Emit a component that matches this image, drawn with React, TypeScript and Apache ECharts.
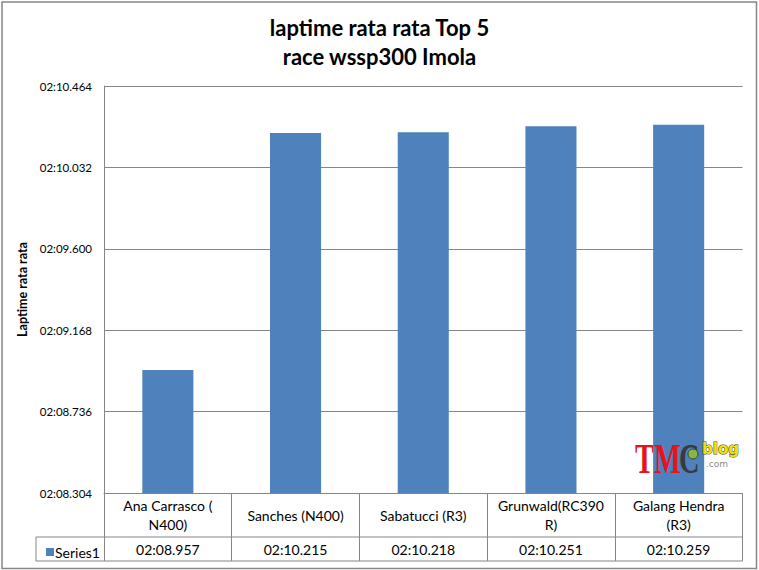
import React, { useEffect, useRef } from "react";
import * as echarts from "echarts";

const categories = ["Ana Carrasco ( N400)", "Sanches (N400)", "Sabatucci (R3)", "Grunwald(RC390R)", "Galang Hendra (R3)"];
const categoryLabels = ["Ana Carrasco (\nN400)", "Sanches (N400)", "Sabatucci (R3)", "Grunwald(RC390\nR)", "Galang Hendra\n(R3)"];
const lapSeconds = [128.957, 130.215, 130.218, 130.251, 130.259];
const yMin = 128.304;
const yMax = 130.464;
const yStep = 0.432;
const seriesName = "Series1";
const titleLines = ["laptime rata rata Top 5", "race wssp300 Imola"];
const yAxisTitle = "Laptime rata rata";

const FONT = "Lato, 'Open Sans', sans-serif";
const GRAY = "#868686";

function fmtLap(v: number): string {
  const ms = Math.round(v * 1000);
  const m = Math.floor(ms / 60000);
  const s = (ms - m * 60000) / 1000;
  return String(m).padStart(2, "0") + ":" + s.toFixed(3).padStart(6, "0");
}

export default function App() {
  const ref = useRef<HTMLDivElement>(null);
  useEffect(() => {
    document.body.style.margin = "0";
    const chart = echarts.init(ref.current!, undefined, { renderer: "svg" });
    const option: any = {
      animation: false,
      backgroundColor: "#ffffff",
      title: {
        text: titleLines.join("\n"),
        left: "center",
        top: 8,
        textStyle: { fontFamily: FONT, fontSize: 22, fontWeight: "bold", color: "#000", lineHeight: 29 },
      },
      legend: {
        left: 41,
        top: 540,
        itemWidth: 8,
        itemHeight: 8,
        icon: "rect",
        data: [seriesName],
        textStyle: { fontFamily: FONT, fontSize: 14, color: "#000", padding: [0, 0, 0, -4] },
      },
      grid: { left: 104, right: 16.5, top: 86, bottom: 77, containLabel: false },
      xAxis: [
        {
          type: "category",
          data: categories,
          position: "bottom",
          axisLine: { show: true, lineStyle: { color: GRAY, width: 1 } },
          axisTick: { show: true, length: 68, lineStyle: { color: GRAY, width: 1 } },
          axisLabel: {
            interval: 0,
            margin: 22,
            verticalAlign: "middle",
            fontFamily: FONT,
            fontSize: 14,
            lineHeight: 19,
            color: "#000",
            formatter: (_v: string, i: number) => categoryLabels[i],
          },
        },
        {
          type: "category",
          data: categories,
          position: "bottom",
          offset: 44,
          axisLine: { show: false },
          axisTick: { show: false },
          axisLabel: {
            interval: 0,
            margin: 12,
            verticalAlign: "middle",
            fontFamily: FONT,
            fontSize: 14,
            color: "#000",
            formatter: (_v: string, i: number) => fmtLap(lapSeconds[i]),
          },
        },
      ],
      yAxis: {
        type: "value",
        min: yMin,
        max: yMax,
        interval: yStep,
        name: yAxisTitle,
        nameLocation: "middle",
        nameGap: 65,
        nameRotate: 90,
        nameTextStyle: { fontFamily: FONT, fontSize: 12.5, fontWeight: "bold", color: "#000" },
        axisLine: { show: true, lineStyle: { color: GRAY, width: 1 } },
        axisTick: { show: false },
        axisLabel: { margin: 12, fontFamily: FONT, fontSize: 11.5, color: "#000", formatter: (v: number) => fmtLap(v) },
        splitLine: { show: true, lineStyle: { color: GRAY, width: 1 } },
      },
      series: [
        {
          name: seriesName,
          type: "bar",
          xAxisIndex: 0,
          data: lapSeconds,
          barWidth: "40%",
          itemStyle: { color: "#4F81BD" },
        },
      ],
      graphic: [
        { type: "rect", z: 100, shape: { x: 2, y: 2, width: 754.5, height: 566.5 }, style: { fill: "none", stroke: GRAY, lineWidth: 1.5 }, silent: true },
        { type: "line", z: 100, shape: { x1: 36, y1: 537, x2: 742.5, y2: 537 }, style: { stroke: GRAY, lineWidth: 1 } },
        { type: "line", z: 100, shape: { x1: 36, y1: 561, x2: 742.5, y2: 561 }, style: { stroke: GRAY, lineWidth: 1 } },
        { type: "line", z: 100, shape: { x1: 36, y1: 537, x2: 36, y2: 561 }, style: { stroke: GRAY, lineWidth: 1 } },
        { type: "text", z: 100, x: 635, y: 437, scaleX: 0.66, style: { text: "TM", font: "bold 43px 'Liberation Serif', serif", fill: "#e3161d", verticalAlign: "top" } },
        { type: "text", z: 100, x: 679, y: 437, scaleX: 0.66, style: { text: "C", font: "bold 43px 'Liberation Serif', serif", fill: "#3a3a3a", verticalAlign: "top" } },
        { type: "circle", z: 101, shape: { cx: 693, cy: 454, r: 5 }, style: { fill: "#8ab34a", stroke: "#2e4d1a", lineWidth: 1 } },
        { type: "text", z: 100, x: 702, y: 441, style: { text: "blog", font: "bold 15px 'DejaVu Sans', sans-serif", fill: "#f3e000", stroke: "#444", lineWidth: 1, verticalAlign: "top" } },
        { type: "text", z: 100, x: 706, y: 459, style: { text: ".com", font: "9px 'DejaVu Sans', sans-serif", fill: "#8a8a8a", verticalAlign: "top" } },
      ],
    };
    chart.setOption(option);
    return () => chart.dispose();
  }, []);
  return <div ref={ref} style={{ width: 759, height: 570 }} />;
}
